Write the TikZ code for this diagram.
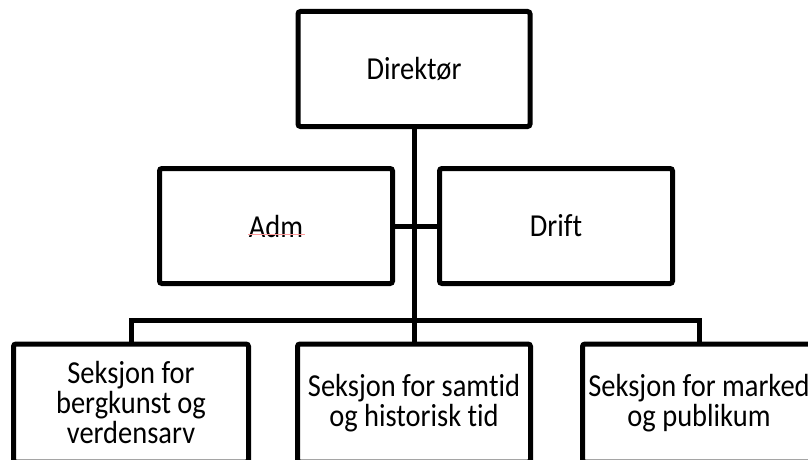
\documentclass[tikz,border=0pt]{standalone}
\usepackage{fontspec}
\setmainfont{Carlito}[FakeStretch=0.89, Ligatures=NoCommon]
\usetikzlibrary{calc}
\begin{document}
\begin{tikzpicture}[x=1pt,y=-1pt,
  orgbox/.style={draw=black, line width=5pt, rounded corners=2.5pt, fill=white,
    inner sep=0pt, outer sep=0pt, align=center,
    font=\fontsize{32}{30}\selectfont},
  link/.style={draw=black, line width=5pt}]
\useasboundingbox (0,0) rectangle (808,460);
\clip (0,0) rectangle (808,460);
\node[orgbox, minimum width=232pt, minimum height=115pt] (dir) at (414,69) {Direktør};
\node[orgbox, minimum width=233pt, minimum height=115pt] (adm) at (276,226) {Adm};
\node[orgbox, minimum width=233pt, minimum height=115pt] (drift) at (556,226) {Drift};
\node[orgbox, minimum width=235pt, minimum height=118pt] (b1) at (131,403) {Seksjon for\\bergkunst og\\verdensarv};
\node[orgbox, minimum width=233pt, minimum height=118pt] (b2) at (414,403) {Seksjon for samtid\\og historisk tid};
\node[orgbox, minimum width=233pt, minimum height=118pt] (b3) at (699,403) {Seksjon for marked\\og publikum};
\coordinate (bus) at (414,320);
\draw[link] (dir.south) -- (b2.north);
\draw[link] (adm.east) -- (drift.west);
\draw[link] (b1.north) |- (bus) -| (b3.north);
\draw[color=red!40, line width=1pt] ($(adm.center)+(-28,8)$) -- ($(adm.center)+(29,8)$);
\end{tikzpicture}
\end{document}
